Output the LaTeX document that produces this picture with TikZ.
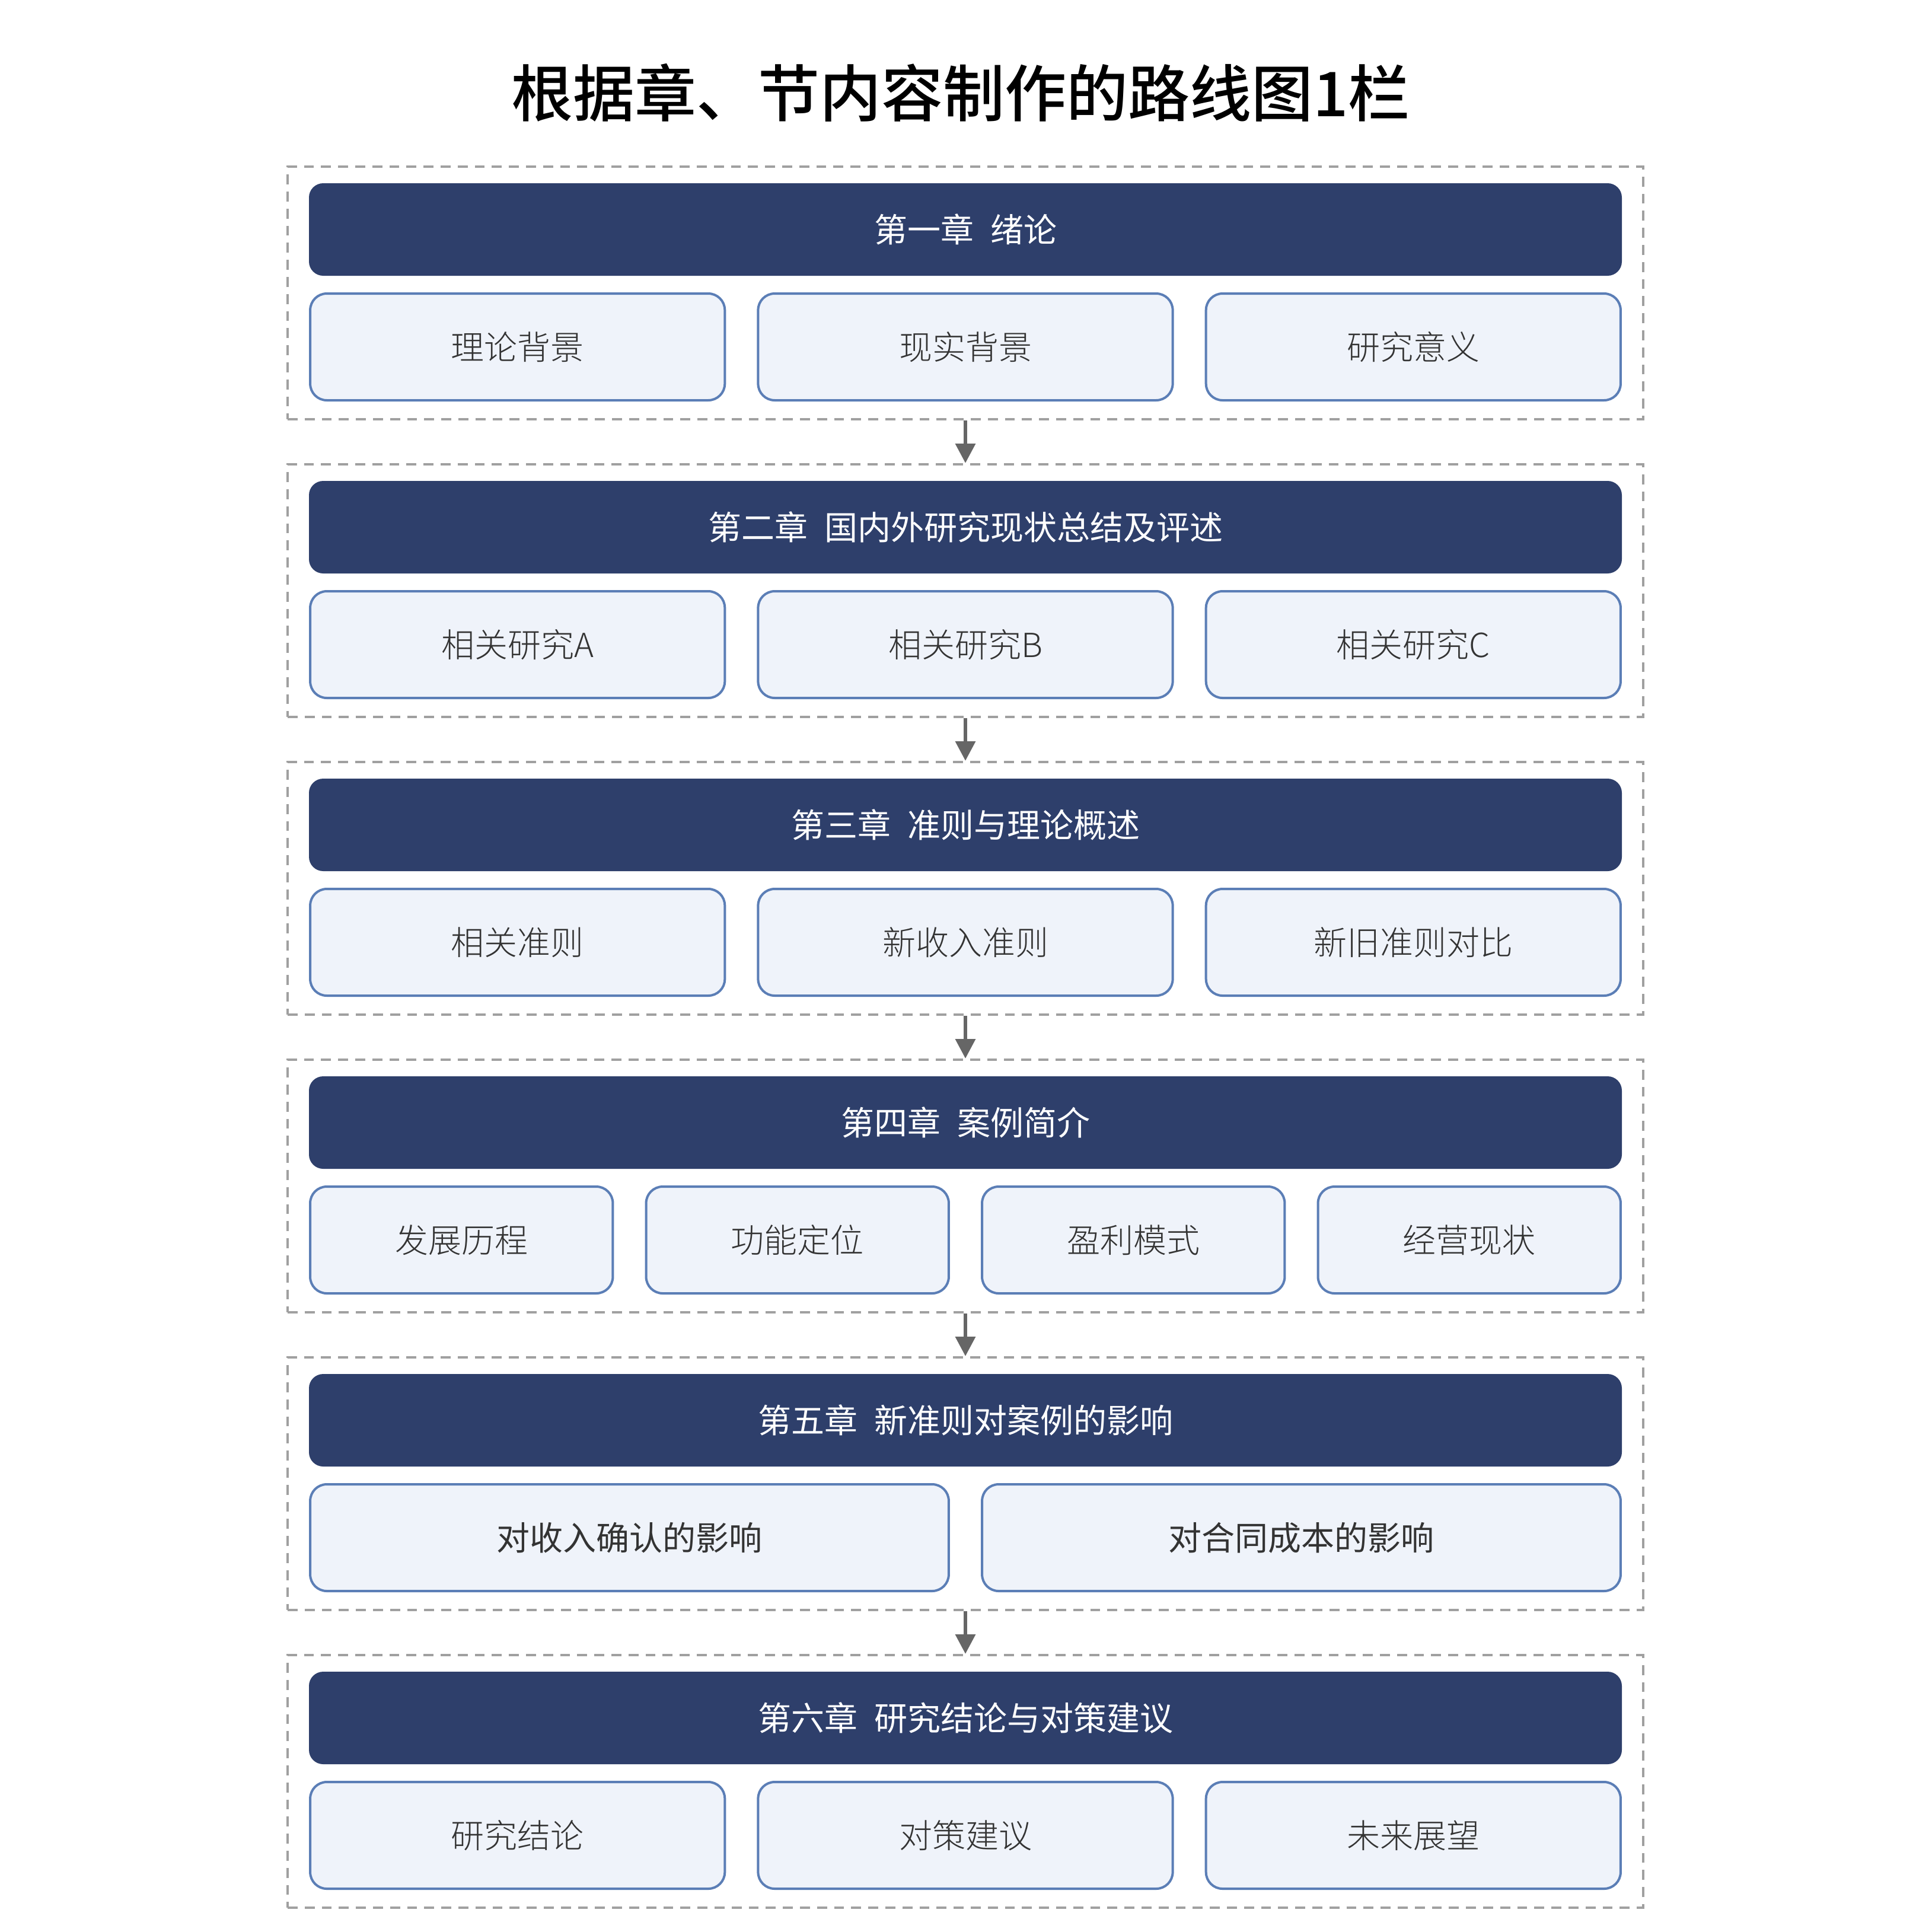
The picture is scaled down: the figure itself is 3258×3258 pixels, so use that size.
\documentclass[tikz,border=0pt]{standalone}
\usepackage{fontspec}
\setmainfont{Noto Sans CJK SC}
\newfontfamily\lightcjk{Noto Sans CJK SC Light}
\newfontfamily\mediumcjk{Noto Sans CJK SC Medium}
\usetikzlibrary{arrows.meta}
\definecolor{chapternavy}{RGB}{46,63,107}
\definecolor{subfill}{RGB}{239,243,250}
\definecolor{subline}{RGB}{91,126,182}
\definecolor{framegray}{RGB}{160,160,160}
\definecolor{flowgray}{RGB}{102,102,102}
\definecolor{subtext}{RGB}{51,51,51}
\newcommand{\chgap}{\hspace{0.5em}}
\tikzstyle{title}=[font=\mediumcjk\fontsize{26pt}{30pt}\selectfont,inner sep=0pt]
\tikzstyle{frame}=[draw=framegray,line width=1pt,dash pattern=on 4.2pt off 3pt,minimum width=571.5pt,minimum height=106.5pt,inner sep=0pt]
\tikzstyle{chapter}=[fill=chapternavy,rounded corners=6pt,minimum width=553.5pt,minimum height=39pt,inner sep=0pt,text=white,font=\fontsize{14pt}{17pt}\selectfont]
\tikzstyle{sub}=[draw=subline,fill=subfill,line width=1pt,rounded corners=7pt,minimum height=45pt,inner sep=0pt,text=subtext,font=\lightcjk\fontsize{14pt}{17pt}\selectfont]
\tikzstyle{sub3}=[sub,minimum width=174.8pt]
\tikzstyle{sub4}=[sub,minimum width=127.6pt]
\tikzstyle{sub2}=[sub,minimum width=269.2pt,font=\fontsize{14pt}{17pt}\selectfont]
\tikzstyle{flow}=[draw=flowgray,line width=1.6pt,-{Triangle[length=8.25pt,width=8.25pt]}]

\begin{document}
\begin{tikzpicture}[x=0.25pt,y=-0.25pt]
    \useasboundingbox (0,0) rectangle (3258,3258);
    \node[title] (title) at (1620,156) {根据章、节内容制作的路线图1栏};

    % Dashed frames first, then the chapter bars on top
    \foreach \i/\text in {0/第一章\chgap 绪论, 1/第二章\chgap 国内外研究现状总结及评述, 2/第三章\chgap 准则与理论概述, 3/第四章\chgap 案例简介, 4/第五章\chgap 新准则对案例的影响, 5/第六章\chgap 研究结论与对策建议}
    {
        \node[frame] (g\i) at (1628,494+502*\i) {};
        \node[chapter] (c\i) at (1628,387+502*\i) {\text};
    }

    % Rows of three boxes
    \foreach \pos/\name/\text in {{(872.7,585)/s0a/理论背景}, {(1628,585)/s0b/现实背景}, {(2383.3,585)/s0c/研究意义},
                                  {(872.7,1087)/s1a/相关研究A}, {(1628,1087)/s1b/相关研究B}, {(2383.3,1087)/s1c/相关研究C},
                                  {(872.7,1589)/s2a/相关准则}, {(1628,1589)/s2b/新收入准则}, {(2383.3,1589)/s2c/新旧准则对比},
                                  {(872.7,3095)/s5a/研究结论}, {(1628,3095)/s5b/对策建议}, {(2383.3,3095)/s5c/未来展望}}
        \node[sub3] (\name) at \pos {\text};

    % Row of four boxes
    \foreach \pos/\name/\text in {{(778.25,2091)/s3a/发展历程}, {(1344.75,2091)/s3b/功能定位}, {(1911.25,2091)/s3c/盈利模式}, {(2477.75,2091)/s3d/经营现状}}
        \node[sub4] (\name) at \pos {\text};

    % Row of two boxes
    \foreach \pos/\name/\text in {{(1061.5,2593)/s4a/对收入确认的影响}, {(2194.5,2593)/s4b/对合同成本的影响}}
        \node[sub2] (\name) at \pos {\text};

    % Arrows between chapters
    \foreach \source/\dest in {g0/g1, g1/g2, g2/g3, g3/g4, g4/g5}
        \path[flow] (\source.south) -- (\dest.north);
\end{tikzpicture}
\end{document}
